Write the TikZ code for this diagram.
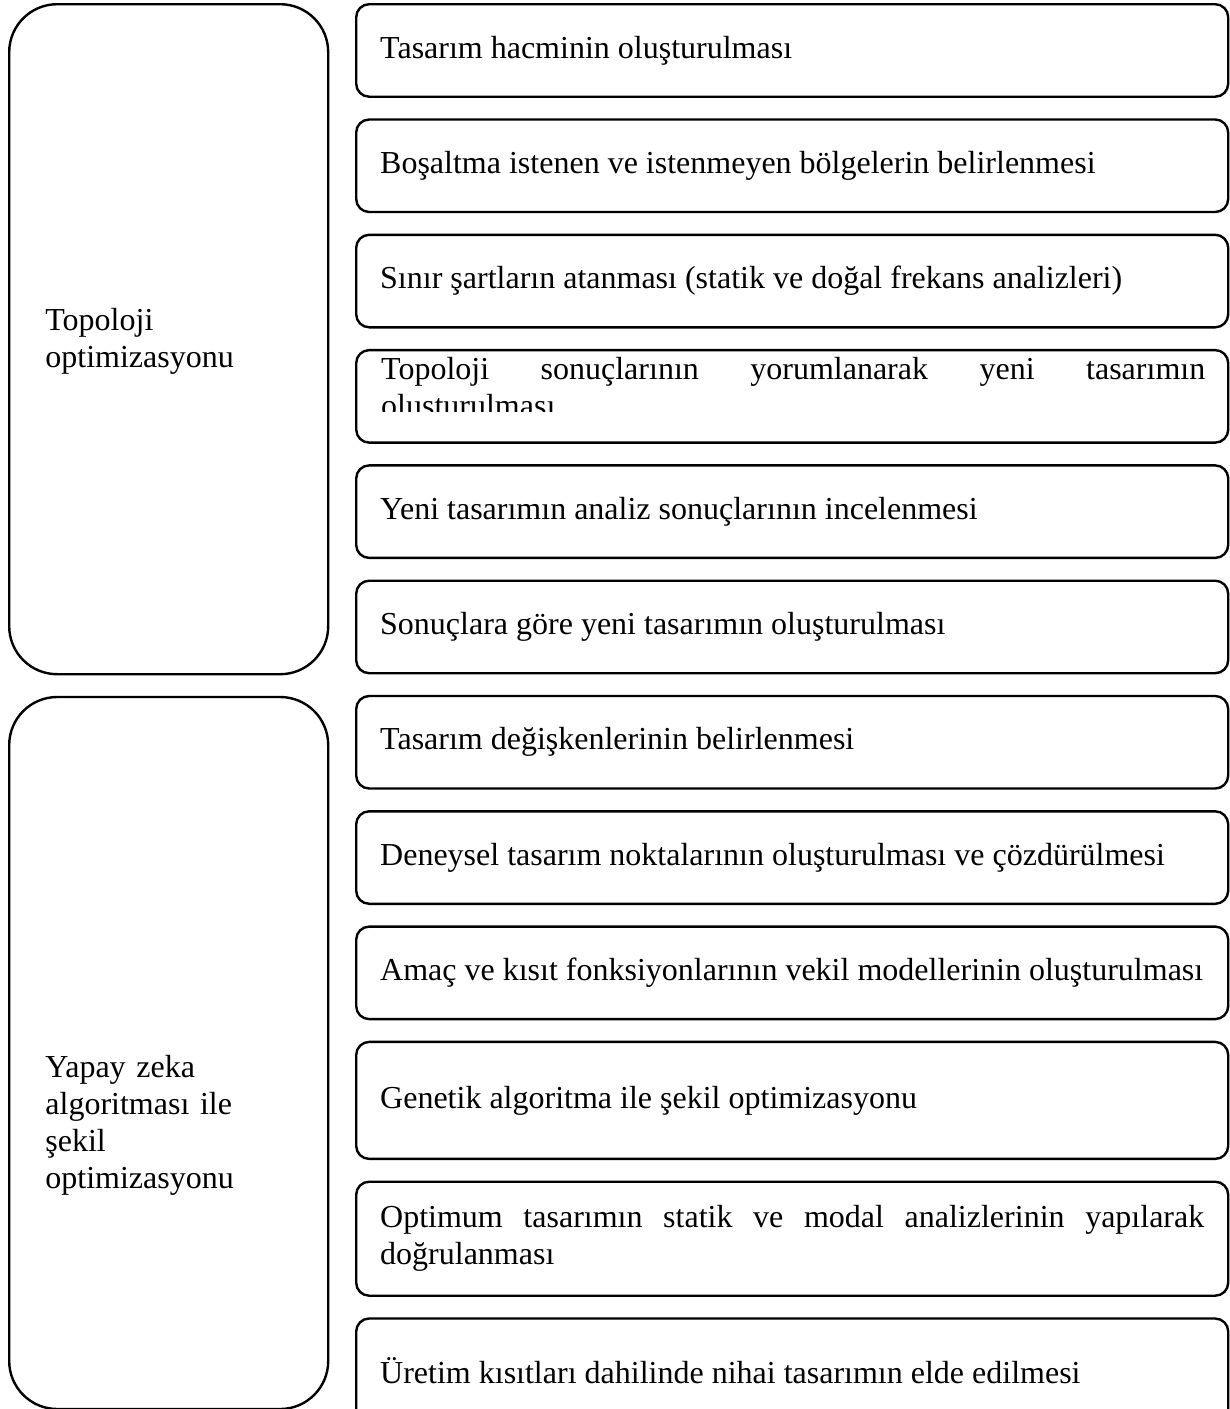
\documentclass[tikz,border=0pt]{standalone}
\usepackage{fontspec}
\setmainfont{Liberation Serif}
\usepackage{tikz}
\usetikzlibrary{positioning,calc}
\hyphenpenalty=10000
\tikzset{%
  stepbox/.style={draw,line width=1.2pt,rounded corners=6.5pt,align=justify,minimum width=436pt,minimum height=46.25pt,text width=412pt,inner xsep=12pt,inner ysep=0pt},
  groupbox/.style={draw,line width=1.2pt,rounded corners=24pt,minimum width=159.5pt,inner sep=0pt}%
}

\begin{document}
\begin{tikzpicture}[
    x=0.5pt, y=-0.5pt,
    font=\fontsize{16pt}{18.5pt}\selectfont,
    node distance=10.2pt,
    grouplabel/.style={
        align=left,
        text width=120pt,
        inner sep=0pt,
        anchor=base west
    }
]
\useasboundingbox (0,0) rectangle (1230,1409);

% Left column: the two stages
\node[groupbox, minimum height=335pt, anchor=north west] (topo) at (8,3) {};
\node[groupbox, minimum height=356pt, below=of topo] (yz) {};
\node[grouplabel] (topolabel) at (45,330) {Topoloji\\optimizasyonu};
\node[grouplabel] (yzlabel) at (45,1077) {Yapay zeka\\algoritması ile\\şekil\\optimizasyonu};

% Right column: the steps, top to bottom
\node[stepbox, anchor=north west] (hacim) at (355,3) {Tasarım hacminin oluşturulması};
\node[stepbox, below=of hacim] (bosaltma) {Boşaltma istenen ve istenmeyen bölgelerin belirlenmesi};
\node[stepbox, below=of bosaltma] (sinir) {Sınır şartların atanması (statik ve doğal frekans analizleri)};
\node[stepbox, below=of sinir] (yorum) {};
\node[stepbox, below=of yorum] (analiz) {Yeni tasarımın analiz sonuçlarının incelenmesi};
\node[stepbox, below=of analiz] (yenitas) {Sonuçlara göre yeni tasarımın oluşturulması};
\node[stepbox, below=of yenitas] (degisken) {Tasarım değişkenlerinin belirlenmesi};
\node[stepbox, below=of degisken] (deney) {Deneysel tasarım noktalarının oluşturulması ve çözdürülmesi};
\node[stepbox, below=of deney] (vekil) {Amaç ve kısıt fonksiyonlarının vekil modellerinin oluşturulması};
\node[stepbox, minimum height=58.5pt, below=of vekil] (genetik) {Genetik algoritma ile şekil optimizasyonu};
\node[stepbox, minimum height=57pt, below=of genetik] (dogrula) {Optimum tasarımın statik ve modal analizlerinin yapılarak\linebreak doğrulanması};
\node[stepbox, minimum height=52pt, below=of dogrula] (uretim) {Üretim kısıtları dahilinde nihai tasarımın elde edilmesi};

% text of the fourth step overflows its box and is cut off
\coordinate (cut) at (0,411);
\begin{scope}
  \clip (yorum.north west) rectangle (yorum.east |- cut);
  \node[stepbox, draw=none, inner sep=0pt, minimum size=0pt, anchor=base west] (yorumtext) at ($(yorum.north west)+(25,31)$) {Topoloji sonuçlarının yorumlanarak yeni tasarımın\linebreak oluşturulması};
\end{scope}

\end{tikzpicture}
\end{document}
